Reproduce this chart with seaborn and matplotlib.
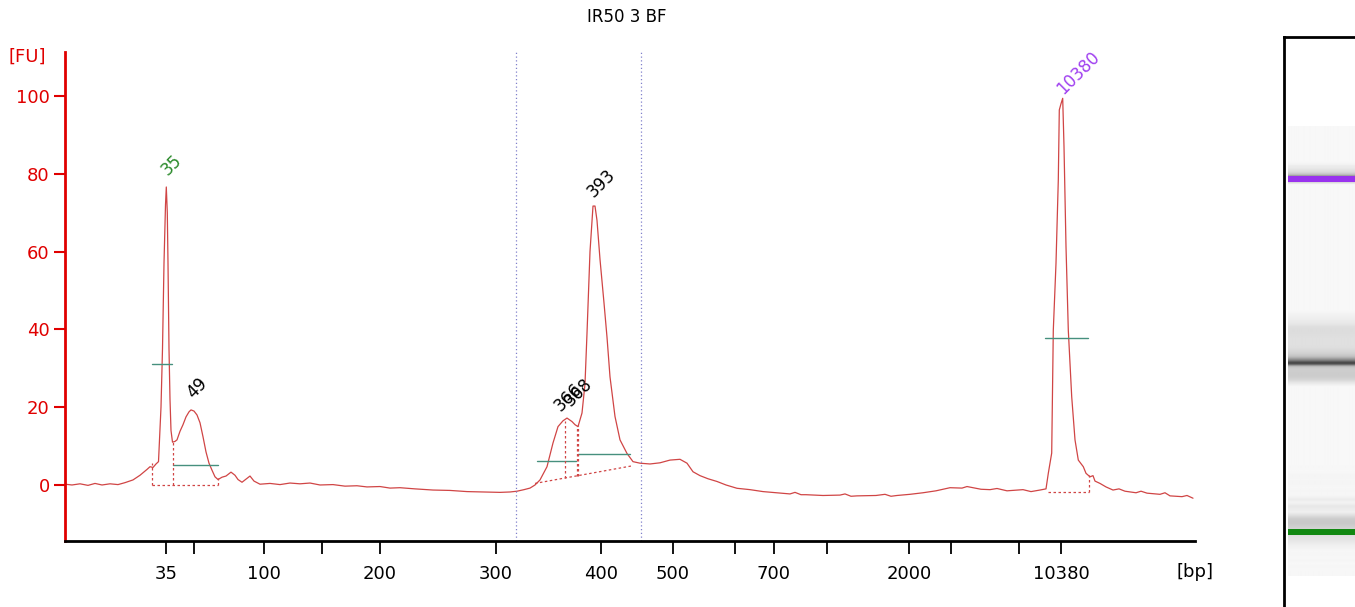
import numpy as np
import pandas as pd
import matplotlib
matplotlib.use('Agg')
import matplotlib.pyplot as plt
import seaborn as sns

# electropherogram trace: migration time (s) vs fluorescence (FU)
trace_time = [17.0, 17.7, 18.5, 19.3, 20.0, 20.7, 21.5, 22.3, 23.0, 23.8, 24.5, 25.2, 25.5, 25.8,
              26.1, 26.35, 26.6, 26.75, 26.9, 27.05, 27.13, 27.23, 27.3, 27.4, 27.5, 27.6, 27.75,
              28.0, 28.2, 28.5, 28.8, 29.1, 29.4, 29.6, 29.9, 30.2, 30.5, 30.8, 31.1, 31.4, 31.7,
              32.0, 32.3, 32.7, 33.1, 33.6, 34.0, 34.3, 34.7, 35.1, 35.5, 35.9, 36.5, 37.5, 38.5,
              39.5, 40.5, 41.5, 42.5, 43.8, 45.0, 46.2, 47.2, 48.5, 49.5, 50.5, 52.0, 53.8, 55.5,
              57.2, 58.8, 60.5, 61.5, 62.2, 62.9, 63.5, 64.0, 64.5, 65.2, 65.8, 66.3, 66.8, 67.2,
              67.7, 68.0, 68.3, 68.7, 69.0, 69.2, 69.5, 69.8, 70.0, 70.2, 70.5, 70.9, 71.2, 71.5,
              72.0, 72.5, 73.2, 73.8, 74.5, 75.5, 76.5, 77.5, 78.5, 79.2, 79.8, 80.5, 81.3, 82.2,
              83.1, 84.2, 85.5, 86.8, 88.2, 89.5, 90.0, 90.6, 91.1, 92.8, 94.5, 95.0, 95.6, 96.2,
              98.1, 99.0, 99.6, 100.2, 101.5, 102.8, 104.1, 105.5, 106.7, 107.2, 107.8, 108.6,
              109.5, 110.2, 111.2, 112.8, 113.6, 114.5, 115.1, 115.33, 115.67, 115.83,
              116.1, 116.33, 116.43, 116.6, 116.77, 116.9, 117.1, 117.33, 117.67, 118.0, 118.33,
              118.6, 118.83, 119.1, 119.5, 119.8, 120.0, 120.5, 121.1, 121.8, 122.4, 123.0, 124.1,
              124.6, 125.2, 126.5, 127.0, 127.5, 128.7, 129.2, 129.8]
trace_fu = [0.2, 0.0, 0.3, -0.1, 0.4, 0.0, 0.3, 0.1, 0.6, 1.3, 2.5, 4.0, 4.7, 4.5,
            5.4, 6.0, 20.0, 35.0, 57.0, 72.0, 76.6, 70.0, 57.0, 35.0, 22.0, 14.0, 11.0,
            11.2, 11.6, 13.8, 15.5, 17.5, 18.8, 19.3, 19.0, 18.0, 16.0, 12.4, 8.5, 5.6, 3.8,
            2.1, 1.4, 2.0, 2.3, 3.3, 2.5, 1.4, 0.7, 1.5, 2.3, 1.0, 0.2, 0.4, 0.1,
            0.5, 0.3, 0.5, 0.0, 0.1, -0.3, -0.2, -0.5, -0.4, -0.8, -0.7, -1.0, -1.3, -1.4,
            -1.7, -1.8, -1.9, -1.8, -1.6, -1.2, -0.8, 0.0, 1.3, 4.7, 10.8, 15.0, 16.5, 17.2,
            16.3, 15.5, 15.0, 18.5, 26.0, 39.0, 60.0, 71.7, 71.7, 68.0, 58.0, 46.8, 38.0, 27.8,
            17.6, 11.6, 8.1, 6.0, 5.6, 5.4, 5.7, 6.4, 6.6, 5.6, 3.4, 2.4, 1.6, 0.9,
            0.0, -0.85, -1.2, -1.7, -2.0, -2.3, -1.9, -2.5, -2.5, -2.7, -2.6, -2.3, -2.9, -2.8,
            -2.7, -2.4, -2.9, -2.7, -2.4, -2.0, -1.5, -0.7, -0.8, -0.4, -0.7, -1.1,
            -1.2, -0.9, -1.5, -1.2, -1.7, -1.3, -1.0, 3.0, 8.2, 39.8,
            57.0, 78.4, 96.4, 98.0, 99.4, 87.0, 61.3, 39.8, 22.7, 11.6, 6.4,
            5.5, 4.7, 3.0, 2.1, 2.4, 1.0, 0.4, -0.5, -1.3, -1.0, -1.6, -2.0,
            -1.6, -2.1, -2.4, -2.0, -2.8, -3.0, -2.7, -3.4]

# size ladder on the x axis
tick_time = [27.1, 29.9, 36.9, 42.7, 48.5, 60.1, 70.6, 77.8, 84.0, 87.9, 93.2, 101.4, 105.6, 112.4, 116.6]
tick_text = ['35', '', '100', '', '200', '300', '400', '500', '', '700', '', '2000', '', '', '10380']

# called peaks
peak_names = ['35', '49', '366', '368', '393', '10380']
peak_label_time = [27.7, 30.2, 67.3, 68.3, 70.6, 118.3]
peak_label_fu = [82.3, 25.0, 22.6, 23.9, 77.6, 105.9]
peak_colors = ['#2a8a2a', 'black', 'black', 'black', 'black', '#a040f0']

# peak width bars
width_start = [25.7, 27.8, 64.2, 68.3, 115.0]
width_end = [27.7, 32.3, 68.1, 73.5, 119.3]
width_fu = [31.0, 5.2, 6.2, 7.9, 37.7]

# integration baselines / boundaries
base_t0 = [25.7, 25.7, 27.77, 32.3, 64.0, 66.97, 68.17, 68.33, 115.3, 119.4]
base_fu0 = [0.0, 0.0, 0.0, 0.0, 0.4, 1.8, 2.35, 2.4, -1.9, -1.9]
base_t1 = [32.3, 25.7, 27.77, 32.3, 73.67, 66.97, 68.17, 68.33, 119.4, 119.4]
base_fu1 = [0.0, 5.6, 11.0, 1.7, 4.9, 16.5, 15.2, 15.5, -1.9, 2.5]

# region markers
region_time = [62.1, 74.55]

sns.set_theme(style='white')
plt.rcParams['font.family'] = ['DejaVu Sans']

W, H = 1355, 607
fig = plt.figure(figsize=(W / 100, H / 100), dpi=100)
ax = fig.add_axes([65 / W, 1 - 541 / H, 1130 / W, (541 - 52) / H])

df = pd.DataFrame({'time': trace_time, 'fu': trace_fu})
trace_col = '#d04545'
sns.lineplot(data=df, x='time', y='fu', ax=ax, color=trace_col, linewidth=0.9, estimator=None, sort=False)

for t in region_time:
    ax.axvline(t, color='#8080cc', lw=0.9, ls=(0, (1, 2)))

for a, b, v in zip(width_start, width_end, width_fu):
    ax.plot([a, b], [v, v], color='#46907e', lw=1.0)

for t0, f0, t1, f1 in zip(base_t0, base_fu0, base_t1, base_fu1):
    ax.plot([t0, t1], [f0, f1], color=trace_col, lw=0.9, ls=(0, (2, 2)))

for name, t, v, c in zip(peak_names, peak_label_time, peak_label_fu, peak_colors):
    ax.text(t, v, name, rotation=45, ha='center', va='center', fontsize=12, color=c)

ax.set_xlim(17, 130)
ax.set_ylim(-14.4, 111.3)
ax.set_xlabel('')
ax.set_ylabel('')
ax.set_yticks([0, 20, 40, 60, 80, 100])
ax.set_xticks(tick_time)
ax.set_xticklabels(tick_text)

red = '#e00000'
for s in ['top', 'right']:
    ax.spines[s].set_visible(False)
ax.spines['left'].set_color(red)
ax.spines['left'].set_linewidth(2)
ax.spines['bottom'].set_color('black')
ax.spines['bottom'].set_linewidth(2)
ax.tick_params(axis='y', colors=red, labelsize=13, length=8, width=1.5, direction='out', pad=3, left=True)
ax.tick_params(axis='x', colors='black', labelsize=13, length=9, width=1.3, direction='out', pad=8, bottom=True)

fig.text(27 / W, 1 - 57 / H, '[FU]', color=red, fontsize=13, ha='center', va='center')
fig.text(1195 / W, 1 - 572 / H, '[bp]', color='black', fontsize=13, ha='center', va='center')
fig.text(627 / W, 1 - 17 / H, 'IR50 3 BF', color='black', fontsize=12, ha='center', va='center')

# gel lane: time maps linearly onto lane height
gel = fig.add_axes([1284 / W, 1 - 620 / H, 81 / W, (620 - 37) / H])
gel.set_xlim(0, 1)
gel.set_ylim(4.96, 152.5)
grid_t = np.linspace(16.1, 129.8, 900)
grid_v = np.clip(np.interp(grid_t, trace_time, trace_fu), 0, None)
shade = 0.97 - 0.15 * (1 - np.exp(-grid_v / 6)) - 0.55 * np.clip(grid_v / 72, 0, 1) ** 2
img = np.repeat(shade[:, None], 4, axis=1)
gel.imshow(img, cmap='gray', vmin=0, vmax=1, origin='lower', aspect='auto',
           extent=[0.05, 1.0, 16.1, 129.8], interpolation='bilinear')
gel.axhspan(115.9, 117.3, xmin=0.05, xmax=1, color='#9933ee', lw=0)
gel.axhspan(26.4, 27.9, xmin=0.05, xmax=1, color='#118811', lw=0)
gel.set_xticks([])
gel.set_yticks([])
for s in ['right', 'bottom']:
    gel.spines[s].set_visible(False)
for s in ['left', 'top']:
    gel.spines[s].set_color('black')
    gel.spines[s].set_linewidth(2)

fig.savefig('out.png', dpi=100)
